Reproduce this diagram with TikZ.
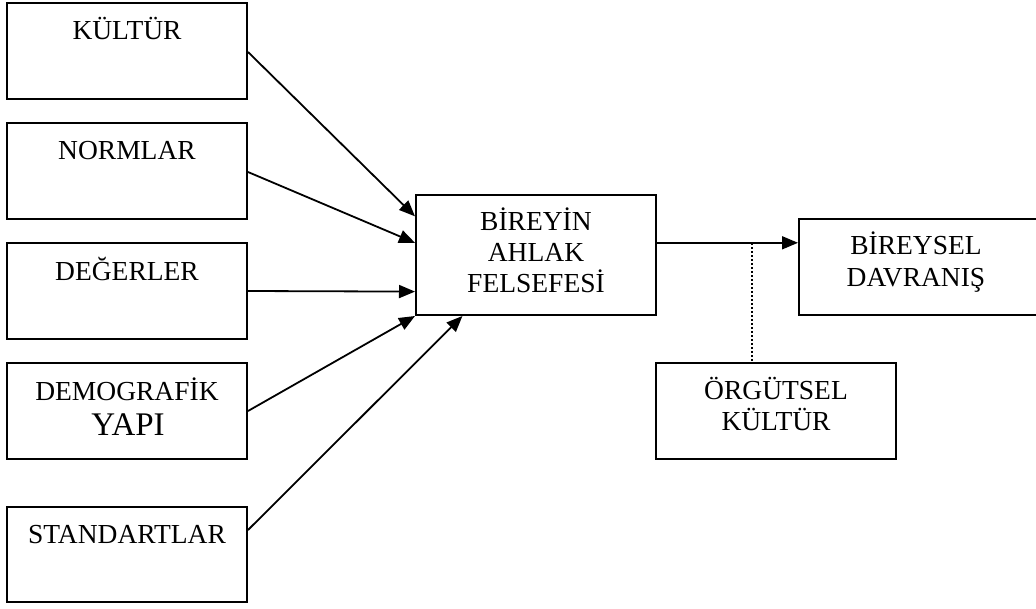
\documentclass[tikz,border=0pt]{standalone}
\usepackage{fontspec}
\setmainfont{Liberation Serif}
\usetikzlibrary{arrows.meta,calc}
\begin{document}
\begin{tikzpicture}[x=1pt,y=-1pt,
  box/.style={draw,line width=2pt,inner sep=0pt,minimum width=240pt,minimum height=96pt},
  lbl/.style={anchor=base,inner sep=0pt,align=center,font=\fontsize{27.5}{31}\selectfont},
  conn/.style={line width=1.8pt,-{Triangle[length=16pt,width=13pt]}},
  link/.style={line width=2.2pt,dash pattern=on 2pt off 2pt}]
\useasboundingbox (0,0) rectangle (1036,608);

% source boxes on the left
\node[box] (kultur)   at (127,51)    {};
\node[box] (normlar)  at (127,171)   {};
\node[box] (degerler) at (127,291)   {};
\node[box] (demo)     at (127,411)   {};
\node[box,minimum height=95pt] (standart) at (127,554.5) {};

% central and outcome boxes
\node[box,minimum height=120pt] (ahlak) at (536,255) {};
\node[box,minimum width=244pt] (davranis) at (921,267) {};
\node[box] (orgutsel) at (776,411) {};

% labels (multi-line labels are placed by the baseline of their last line)
\node[lbl] (tkultur)   at (127,39)  {KÜLTÜR};
\node[lbl] (tnormlar)  at (127,159) {NORMLAR};
\node[lbl] (tdegerler) at (127,280) {DEĞERLER};
\node[lbl] (tdemo)     at (127,400) {DEMOGRAFİK};
\node[lbl,font=\fontsize{33}{36}\selectfont] (tyapi) at (128,435) {YAPI};
\node[lbl] (tstandart) at (127,543) {STANDARTLAR};
\node[lbl] (tahlak)    at (536,292) {BİREYİN\\AHLAK\\FELSEFESİ};
\node[lbl,font=\fontsize{27.5}{32}\selectfont] (tdavranis) at (916,286) {BİREYSEL\\DAVRANIŞ};
\node[lbl] (torgutsel) at (776,430) {ÖRGÜTSEL\\KÜLTÜR};

% influences on the individual's moral philosophy
\draw[conn] ($(kultur.east)+(0,1)$) -- ($(ahlak.north west)!0.183!(ahlak.south west)$);
\draw[conn] ($(normlar.east)+(0,1)$) -- ($(ahlak.north west)!0.4!(ahlak.south west)$);
\draw[conn] (degerler.east) -- ($(ahlak.north west)!0.8!(ahlak.south west)$);
\draw[conn] (demo.east) -- (ahlak.south west);
\draw[conn] ($(standart.east)+(0,-24.5)$) -- ($(ahlak.south west)!0.196!(ahlak.south east)$);

% outcome and moderating organisational culture
\coordinate (out) at ($(ahlak.north east)!0.4!(ahlak.south east)$);
\draw[conn] (out) -- (out -| davranis.west);
\coordinate (junc) at ($(orgutsel.north)+(-24,0)$);
\draw[link] (junc |- out) -- (junc);
\end{tikzpicture}
\end{document}
